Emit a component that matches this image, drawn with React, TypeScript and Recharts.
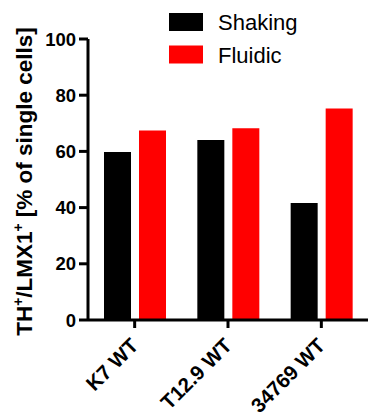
import React from 'react';
import { BarChart, Bar, XAxis, YAxis, Legend } from 'recharts';

const categories = ['K7 WT', 'T12.9 WT', '34769 WT'];
const shaking = [59.8, 64.1, 41.6];
const fluidic = [67.4, 68.2, 75.3];
const yTicks = [0, 20, 40, 60, 80, 100];
const seriesNames = ['Shaking', 'Fluidic'];
const seriesColors = ['#000000', '#ff0000'];

const data = categories.map((c, i) => ({ name: c, Shaking: shaking[i], Fluidic: fluidic[i] }));

const FONT = "'Liberation Sans', Arial, Helvetica, sans-serif";

const XTick = (props: any) => {
  const { x, y, payload } = props;
  return (
    <g transform={`translate(${x},${y})`}>
      <text
        x={5}
        y={17}
        textAnchor="end"
        transform="rotate(-45 5 17)"
        fontFamily={FONT}
        fontWeight="bold"
        fontSize={20.5}
        fill="#000"
      >
        {payload.value}
      </text>
    </g>
  );
};

const YTick = (props: any) => {
  const { x, y, payload } = props;
  return (
    <text
      x={x}
      y={y}
      dy={6.5}
      textAnchor="end"
      fontFamily={FONT}
      fontWeight="bold"
      fontSize={18.5}
      fill="#000"
    >
      {payload.value}
    </text>
  );
};

const YLabel = (props: any) => {
  const vb = props.viewBox || { x: 0, y: 39, width: 88, height: 281 };
  const cx = vb.x + 32;
  const cy = vb.y + vb.height / 2 + 2;
  return (
    <text
      x={cx}
      y={cy}
      textAnchor="middle"
      transform={`rotate(-90 ${cx} ${cy})`}
      fontFamily={FONT}
      fontWeight="bold"
      fontSize={22.5}
      fill="#000"
    >
      <tspan>TH</tspan>
      <tspan dy={-9} fontSize={14}>+</tspan>
      <tspan dy={9}>/LMX1</tspan>
      <tspan dy={-9} fontSize={14}>+</tspan>
      <tspan dy={9} dx={6}>{'[% of single cells]'}</tspan>
    </text>
  );
};

const LegendContent = (props: any) => {
  const payload = [...(props.payload || [])].sort(
    (a: any, b: any) => seriesNames.indexOf(a.value) - seriesNames.indexOf(b.value)
  );
  return (
    <svg width={368} height={70} style={{ display: 'block' }}>
      {payload.map((p: any, i: number) => (
        <g key={p.value}>
          <rect x={169} y={13 + i * 32.5} width={34} height={18} fill={p.color} />
          <text
            x={218}
            y={30 + i * 32.5}
            fontFamily={FONT}
            fontSize={22}
            fill="#000"
          >
            {p.value}
          </text>
        </g>
      ))}
    </svg>
  );
};

export default function App() {
  return (
    <div style={{ position: 'absolute', left: 0, top: 0, width: 368, height: 416, background: '#fff' }}>
      <BarChart
        width={368}
        height={416}
        data={data}
        margin={{ top: 39, right: 0, bottom: 0, left: 0 }}
        barSize={27}
        barGap={8}
      >
        <XAxis
          dataKey="name"
          axisLine={{ stroke: '#000', strokeWidth: 3 }}
          tickLine={{ stroke: '#000', strokeWidth: 3 }}
          tickSize={8}
          tick={<XTick />}
          interval={0}
          height={96}
        />
        <YAxis
          domain={[0, 100]}
          ticks={yTicks}
          width={88}
          axisLine={{ stroke: '#000', strokeWidth: 3 }}
          tickLine={{ stroke: '#000', strokeWidth: 3 }}
          tickSize={9}
          tickMargin={3}
          tick={<YTick />}
          label={<YLabel />}
        />
        <Legend
          layout="vertical"
          align="center"
          verticalAlign="middle"
          wrapperStyle={{ top: 0, left: 0, width: 368, height: 70 }}
          content={<LegendContent />}
        />
        {seriesNames.map((s, i) => (
          <Bar key={s} dataKey={s} name={s} fill={seriesColors[i]} isAnimationActive={false} />
        ))}
      </BarChart>
    </div>
  );
}
